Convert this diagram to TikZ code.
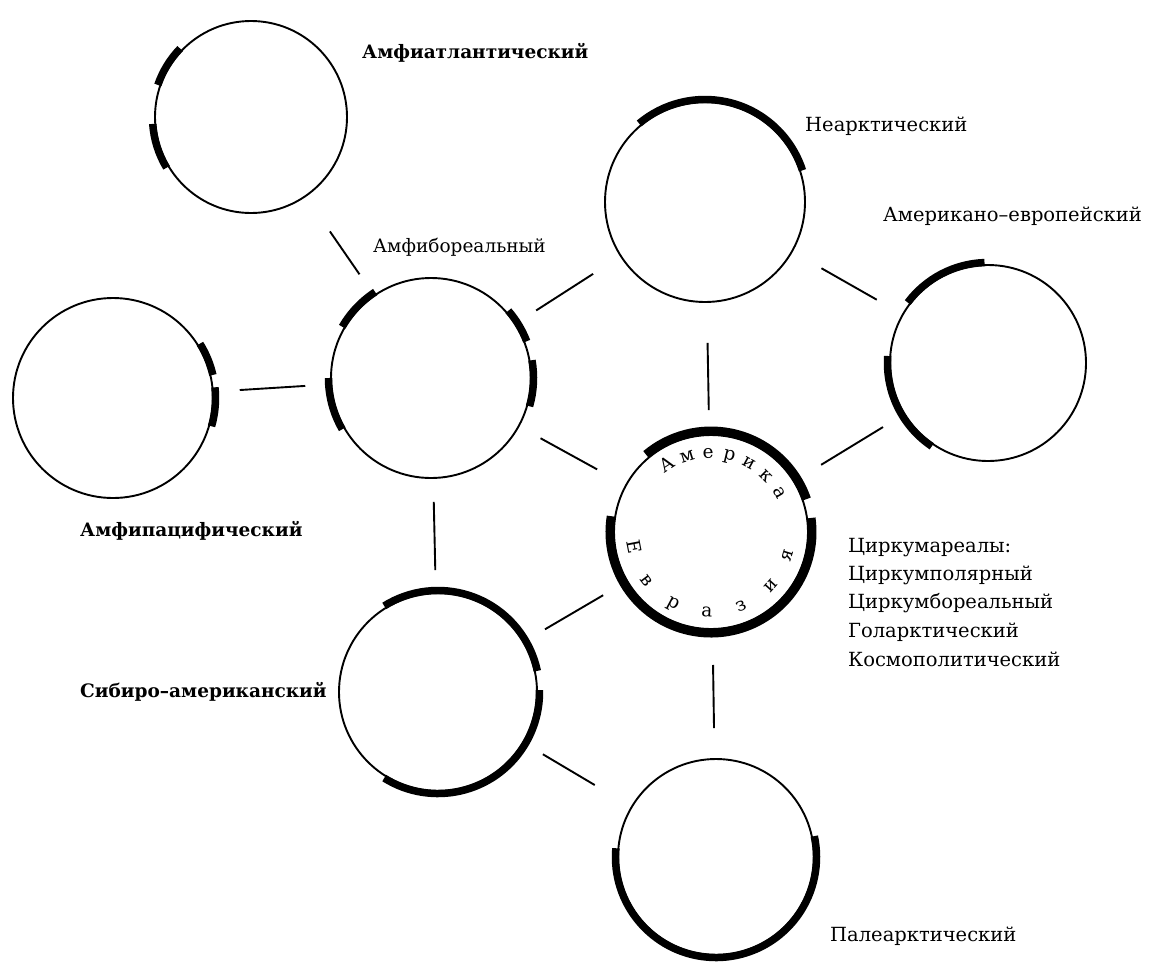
\documentclass[tikz,border=0pt]{standalone}
\usepackage{fontspec}
\setmainfont{DejaVu Serif}
\newcommand{\thickarc}[5][arcline]{\draw[#1] ([shift={(#3:#5)}]#2.center) arc[start angle=#3,end angle=#4,radius=#5];}
\begin{document}
\begin{tikzpicture}[x=1pt,y=1pt,
  ring/.style={circle, draw, line width=1.9pt, inner sep=0pt, outer sep=0pt},
  arcline/.style={line width=7.5pt},
  bigarc/.style={line width=9pt},
  link/.style={line width=1.9pt},
  lbl/.style={anchor=base west, inner sep=0pt, font=\fontsize{19.5}{22}\selectfont},
  blbl/.style={lbl, font=\fontsize{18.5}{22}\selectfont\bfseries},
  letter/.style={anchor=base, inner sep=0pt, font=\fontsize{18.5}{20}\selectfont}]
\useasboundingbox (0,0) rectangle (1159,-962);
\fill[white] (0,0) rectangle (1159,-962);

% circles
\node[ring, minimum size=192pt] (atl) at (251,-117) {};
\node[ring, minimum size=200pt] (bor) at (431,-378) {};
\node[ring, minimum size=200pt] (pac) at (113,-398) {};
\node[ring, minimum size=200pt] (nea) at (705,-202) {};
\node[ring, minimum size=196pt] (ame) at (988,-363) {};
\node[ring, minimum size=194pt] (cen) at (711,-532) {};
\node[ring, minimum size=198pt] (sib) at (438,-692) {};
\node[ring, minimum size=196pt] (pal) at (716,-857) {};

% thick arcs
\thickarc{atl}{136}{161}{98.5pt}
\thickarc{atl}{184}{211}{98.5pt}
\thickarc{bor}{123}{150}{102.5pt}
\thickarc{bor}{21}{41}{102.5pt}
\thickarc{bor}{-16}{10}{102.5pt}
\thickarc{bor}{180}{210}{102.5pt}
\thickarc{pac}{13}{32}{102.5pt}
\thickarc{pac}{-16}{6}{102.5pt}
\thickarc{nea}{18}{130}{102.5pt}
\thickarc{ame}{92}{143}{100.5pt}
\thickarc{ame}{176}{236}{100.5pt}
\thickarc[bigarc]{cen}{19}{130}{101pt}
\thickarc[bigarc]{cen}{171}{368}{101pt}
\thickarc{sib}{12}{122}{101.5pt}
\thickarc{sib}{-122}{1}{101.5pt}
\thickarc{pal}{175}{372}{100.5pt}

% connectors
\draw[link, shorten <=43pt, shorten >=26pt] (atl) -- (bor);
\draw[link, shorten <=27pt, shorten >=26pt] (pac) -- (bor);
\draw[link, shorten <=25pt, shorten >=33pt] (bor) -- (nea);
\draw[link, shorten <=25pt, shorten >=33pt] (bor) -- (cen);
\draw[link, shorten <=24pt, shorten >=23pt] (bor) -- (sib);
\draw[link, shorten <=41pt, shorten >=25pt] (nea) -- (cen);
\draw[link, shorten <=34pt, shorten >=30pt] (nea) -- (ame);
\draw[link, shorten <=32pt, shorten >=25pt] (cen) -- (ame);
\draw[link, shorten <=28pt, shorten >=25pt] (cen) -- (sib);
\draw[link, shorten <=36pt, shorten >=31pt] (cen) -- (pal);
\draw[link, shorten <=23pt, shorten >=43pt] (sib) -- (pal);

% letters inside the central circle
\foreach \c/\a [count=\i] in {А/123,м/107.5,е/92,р/76.5,и/61,к/45.5,а/30}
  \node[letter, rotate=\a-90, name=am\i] at ([shift={(\a:74pt)}]cen.center) {\c};
\foreach \c/\a [count=\i] in {Е/191,в/217,р/242,а/267,з/292,и/318,я/343}
  \node[letter, rotate=\a+90, name=ev\i] at ([shift={(\a:85pt)}]cen.center) {\c};

% labels
\node[blbl] (tatl) at (362,-58) {Амфиатлантический};
\node[lbl] (tnea) at (805,-131) {Неарктический};
\node[lbl] (tame) at (883,-221) {Американо–европейский};
\node[lbl, font=\fontsize{18.5}{22}\selectfont] (tbor) at (373,-252) {Амфибореальный};
\node[blbl] (tpac) at (80,-536) {Амфипацифический};
\node[blbl] (tsib) at (80,-697) {Сибиро–американский};
\node[lbl] (tc1) at (848,-552) {Циркумареалы:};
\node[lbl] (tc2) at (848,-580) {Циркумполярный};
\node[lbl] (tc3) at (848,-608) {Циркумбореальный};
\node[lbl] (tc4) at (848,-637) {Голарктический};
\node[lbl] (tc5) at (848,-666) {Космополитический};
\node[lbl] (tpal) at (830,-941) {Палеарктический};
\end{tikzpicture}
\end{document}
